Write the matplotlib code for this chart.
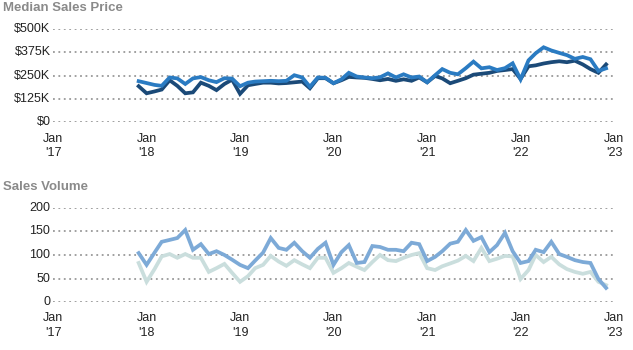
import matplotlib
matplotlib.use("Agg")
import numpy as np
import pandas as pd
import matplotlib.pyplot as plt

plt.rcParams["font.family"] = ["Liberation Sans", "DejaVu Sans"]

# monthly data, Dec 2017 .. Dec 2022
months = pd.date_range("2017-12-01", periods=61, freq="MS")

# median sales price ($K)
price_dark = [
    193, 155, 165, 175, 225, 195, 155, 160, 212, 195, 172, 205, 228,
    152, 198, 205, 212, 212, 208, 210, 214, 218, 182, 236, 236,
    209, 225, 243, 240, 238, 232, 225, 232, 222, 230, 222, 240,
    214, 248, 235, 209, 222, 236, 255, 260, 265, 275, 280, 285,
    232, 300, 305, 315, 322, 327, 322, 330, 310, 285, 265, 310,
]
price_light = [
    220, 210, 200, 195, 240, 235, 205, 235, 242, 225, 215, 236, 234,
    193, 212, 218, 220, 222, 220, 222, 252, 240, 190, 240, 238,
    209, 230, 265, 245, 240, 236, 241, 262, 240, 257, 240, 245,
    214, 252, 285, 265, 257, 290, 325, 289, 295, 280, 290, 316,
    230, 332, 370, 402, 385, 372, 360, 340, 350, 338, 275, 289,
]

# sales volume
volume_blue = [
    104, 79, 105, 128, 132, 136, 153, 111, 123, 102, 108, 100, 90,
    79, 72, 88, 105, 136, 115, 111, 126, 108, 94, 113, 126,
    79, 106, 121, 83, 85, 119, 117, 111, 111, 108, 126, 123,
    87, 96, 108, 124, 128, 153, 130, 138, 106, 121, 147, 108,
    83, 87, 111, 106, 128, 102, 96, 89, 85, 83, 49, 30,
]
volume_pale = [
    83, 43, 70, 97, 102, 94, 102, 94, 94, 64, 72, 81, 62,
    43, 55, 72, 79, 98, 86, 77, 89, 80, 72, 94, 94,
    62, 72, 83, 75, 68, 85, 100, 89, 87, 94, 100, 104,
    72, 68, 76, 82, 88, 98, 87, 115, 87, 92, 98, 97,
    49, 68, 100, 85, 96, 80, 70, 64, 60, 64, 43, 36,
]

year_ticks = pd.date_range("2017-01-01", "2023-01-01", freq="YS")
year_labels = [f"Jan\n'{d.year % 100:02d}" for d in year_ticks]

price_ticks = [0, 125, 250, 375, 500]
price_labels = ["$0", "$125K", "$250K", "$375K", "$500K"]
volume_ticks = [0, 50, 100, 150, 200]


def _style_axis(ax, yticks, ylabels, ymax):
    ax.set_xlim(year_ticks[0], year_ticks[-1])
    ax.set_ylim(0, ymax)
    ax.set_yticks(yticks)
    ax.set_yticklabels(ylabels)
    ax.set_xticks(year_ticks)
    ax.set_xticklabels(year_labels, linespacing=1.3)
    for s in ax.spines.values():
        s.set_visible(False)
    ax.tick_params(length=0, labelsize=9, colors="#222222")
    ax.tick_params(axis="y", pad=2)
    ax.tick_params(axis="x", pad=7.5)
    ax.yaxis.grid(True, linestyle=(0, (1, 2)), color="#999999", linewidth=1.3)
    ax.set_axisbelow(True)
    ax.patch.set_alpha(0)
    for lab in ax.get_yticklabels():
        lab.set_verticalalignment("center")


fig = plt.figure(figsize=(6.33, 3.5), dpi=100)

ax1 = fig.add_axes([0.084, 0.651, 0.886, 0.266])
ax1.plot(months, price_dark, color="#1b4a78", lw=2.7, solid_joinstyle="miter")
ax1.plot(months, price_light, color="#2a7bc2", lw=2.7, solid_joinstyle="miter")
_style_axis(ax1, price_ticks, price_labels, 500)

ax2 = fig.add_axes([0.084, 0.137, 0.886, 0.269])
ax2.plot(months, volume_pale, color="#cadedd", lw=2.7, solid_joinstyle="miter")
ax2.plot(months, volume_blue, color="#7daad7", lw=2.7, solid_joinstyle="miter")
_style_axis(ax2, volume_ticks, [str(v) for v in volume_ticks], 200)

fig.text(0.005, 0.977, "Median Sales Price", fontsize=9.5, fontweight="bold",
         color="#8a8a8a", va="center", ha="left")
fig.text(0.005, 0.466, "Sales Volume", fontsize=9.5, fontweight="bold",
         color="#8a8a8a", va="center", ha="left")

fig.savefig("out.png", dpi=100)
